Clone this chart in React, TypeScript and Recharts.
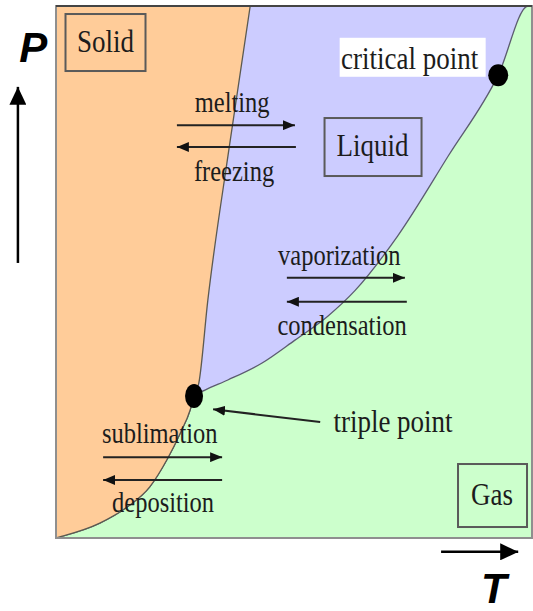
import React from 'react';
import {Area, ComposedChart, ReferenceArea, ReferenceDot, ReferenceLine, Scatter, XAxis, YAxis} from "recharts";

// phase boundaries, [T, P] on a 0..100 scale
const sublimationCurve = [[0, 0], [0.8, 0.2], [9.2, 2.8], [14.9, 5.8], [19.7, 9.6], [23.3, 14.7], [26.1, 19.7], [28.2, 24.1], [29.0, 26.7]];
const meltingCurve = [[30.0, 29.1], [31.9, 44.7], [36.3, 72.9], [40.8, 100]];
const vaporCurve = [[31.3, 27.8], [36.1, 29.7], [43.3, 32.9], [50.2, 37.2], [57.1, 41.7], [62.8, 46.5], [71.8, 56.8], [82.4, 71.8], [92.9, 87.0], [99.2, 100], [100, 100]];
const fullRange = [[0, 0], [100, 0]];

const triplePoint = [{T: 29.0, P: 26.7}];
const criticalPoint = [{T: 92.9, P: 87.0}];

const regionLabels = [
    {text: 'Solid', T: 10.4, P: 91.35},
    {text: 'Liquid', T: 66.5, P: 71.8},
    {text: 'Gas', T: 91.6, P: 6.2},
];
const pointLabels = [
    {text: 'critical point', T: 74.3, P: 88.2},
    {text: 'triple point', T: 70.8, P: 19.9},
];
const processLabels = [
    {text: 'melting', T: 37.0, P: 80.1},
    {text: 'freezing', T: 37.4, P: 67.1},
    {text: 'vaporization', T: 59.5, P: 51.3},
    {text: 'condensation', T: 60.1, P: 38.2},
    {text: 'sublimation', T: 21.8, P: 17.9},
    {text: 'deposition', T: 22.5, P: 4.9},
];

// arrows: [fromT, fromP, toT, toP]
const processArrows = [
    [25.4, 77.6, 50.2, 77.6],
    [50.4, 73.5, 25.4, 73.5],
    [48.5, 48.9, 73.3, 48.9],
    [73.7, 44.4, 48.5, 44.4],
    [9.9, 15.2, 34.9, 15.2],
    [34.9, 10.9, 9.9, 10.9],
    [55.5, 21.8, 33.0, 24.2],
];
const axisArrows = [
    [-8.0, 51.7, -8.0, 84.8],
    [80.9, -2.6, 97.1, -2.6],
];
const axisLetters = [
    {text: 'P', T: -4.8, P: 89.5},
    {text: 'T', T: 92.0, P: -12.2},
];

const toRows = (pts: number[][]) => pts.map(([T, P]) => ({T, range: [P, 100]}));
const solidRows = toRows([...sublimationCurve, ...meltingCurve]);
const liquidRows = toRows([...sublimationCurve, ...vaporCurve]);
const gasRows = toRows(fullRange);

const boxes: Record<string, { left: number; right: number; top: number; bottom: number }> = {
    Solid: {left: -40, right: 40, top: -38, bottom: 19},
    Liquid: {left: -48, right: 49, top: -38, bottom: 20},
    Gas: {left: -34, right: 35, top: -41, bottom: 22},
};

const serif = '"Liberation Serif", "Times New Roman", serif';

const makeText = (fontSize: number, withBox: boolean) => (props: any) => {
    const {cx, cy, payload} = props;
    const box = withBox ? boxes[payload.text] : null;
    const isCritical = payload.text === 'critical point';
    return (
        <g>
            {isCritical && <rect x={cx - 70} y={cy - 31} width={146} height={39} fill="#ffffff"/>}
            {box && <rect x={cx + box.left} y={cy + box.top} width={box.right - box.left} height={box.bottom - box.top}
                          fill="none" stroke="#5a5a5a" strokeWidth={2}/>}
            <text x={0} y={0} transform={`translate(${cx} ${cy}) scale(1 1.18)`} textAnchor="middle"
                  fontFamily={serif} fontSize={fontSize} fill="#1c1c1c">{payload.text}</text>
        </g>
    );
};

const renderDot = (rx: number, ry: number) => (props: any) => (
    <ellipse cx={props.cx} cy={props.cy} rx={rx} ry={ry} fill="#000"/>
);

export default function App() {
    return (
        <div style={{position: 'absolute', left: 0, top: 0, width: 533, height: 611, background: '#fff'}}>
            <ComposedChart width={533} height={611} margin={{top: 6, right: 1, bottom: 73, left: 56}}>
                <defs>
                    <marker id="arrowSmall" markerUnits="userSpaceOnUse" markerWidth={12} markerHeight={10}
                            refX={12} refY={5} orient="auto">
                        <path d="M0,0 L12,5 L0,10 z" fill="#111"/>
                    </marker>
                    <marker id="arrowBig" markerUnits="userSpaceOnUse" markerWidth={18} markerHeight={17}
                            refX={18} refY={8.5} orient="auto">
                        <path d="M0,0 L18,8.5 L0,17 z" fill="#000"/>
                    </marker>
                </defs>
                <XAxis dataKey="T" type="number" domain={[0, 100]} allowDataOverflow hide/>
                <YAxis type="number" domain={[0, 100]} allowDataOverflow hide/>
                <Area data={gasRows} dataKey="range" type="linear" fill="#CCFFCC" fillOpacity={1} stroke="none"
                      isAnimationActive={false}/>
                <Area data={liquidRows} dataKey="range" type="monotone" fill="#CCCCFF" fillOpacity={1}
                      stroke="#5c5c70" strokeWidth={1.3} isAnimationActive={false}/>
                <Area data={solidRows} dataKey="range" type="monotone" fill="#FFCC99" fillOpacity={1}
                      stroke="#5c5a50" strokeWidth={1.3} isAnimationActive={false}/>
                <ReferenceArea x1={0} x2={100} y1={0} y2={100} fill="none" stroke="#8f8f8f" strokeWidth={2}
                               ifOverflow="visible"/>
                <ReferenceLine y={100} stroke="#444" strokeWidth={2} ifOverflow="visible"/>
                {processArrows.map(([t1, p1, t2, p2], i) => (
                    <ReferenceLine key={`pa${i}`} segment={[{x: t1, y: p1}, {x: t2, y: p2}]} stroke="#222"
                                   strokeWidth={2} markerEnd="url(#arrowSmall)" ifOverflow="visible"/>
                ))}
                {axisArrows.map(([t1, p1, t2, p2], i) => (
                    <ReferenceLine key={`aa${i}`} segment={[{x: t1, y: p1}, {x: t2, y: p2}]} stroke="#000"
                                   strokeWidth={2.5} markerEnd="url(#arrowBig)" ifOverflow="visible"/>
                ))}
                <Scatter data={regionLabels} dataKey="P" shape={makeText(27, true)} isAnimationActive={false}/>
                <Scatter data={pointLabels} dataKey="P" shape={makeText(27, false)} isAnimationActive={false}/>
                <Scatter data={processLabels} dataKey="P" shape={makeText(24.5, false)} isAnimationActive={false}/>
                <Scatter data={triplePoint} dataKey="P" shape={renderDot(9, 12)} isAnimationActive={false}/>
                <Scatter data={criticalPoint} dataKey="P" shape={renderDot(10, 11)} isAnimationActive={false}/>
                {axisLetters.map((l) => (
                    <ReferenceDot key={l.text} x={l.T} y={l.P} r={0} ifOverflow="visible"
                                  shape={(p: any) => (
                                      <text x={p.cx} y={p.cy} textAnchor="middle" fontFamily='"Liberation Sans", Arial, sans-serif'
                                            fontWeight="bold" fontStyle="italic" fontSize={42} fill="#000">{l.text}</text>
                                  )}/>
                ))}
            </ComposedChart>
        </div>
    );
}
